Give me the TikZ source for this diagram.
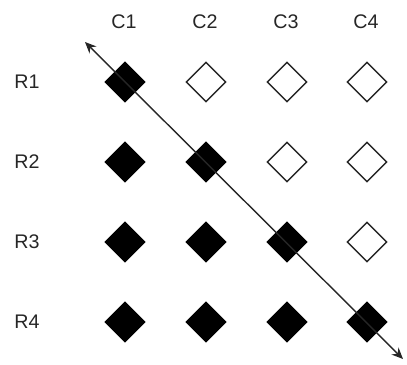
\documentclass[tikz,border=0pt]{standalone}
\usepackage{fontspec}
\setmainfont{Liberation Sans}
\usepackage{tikz}
\usetikzlibrary{arrows.meta,positioning,shapes.geometric}
\usepackage{xcolor}

\begin{document}
\begin{tikzpicture}[
    x=0.025cm, y=-0.025cm,
    full/.style={diamond, draw=black, fill=black, line width=1pt, minimum width=1cm, minimum height=1cm, inner sep=0pt},
    hollow/.style={diamond, draw=black!85, fill=white, line width=1pt, minimum width=1cm, minimum height=1cm, inner sep=0pt},
    arrow/.style={<->, >={Stealth[length=8pt, width=7pt]}, color=black!85, line width=1pt},
    head/.style={font=\fontsize{14}{16}\selectfont, text=black!85},
]
\useasboundingbox (0,0) rectangle (407,364);
\node[head] (C1) at (124, 22) {C1};
\node[head] (C2) at (205, 22) {C2};
\node[head] (C3) at (286, 22) {C3};
\node[head] (C4) at (366, 22) {C4};
\node[head] (R1) at (27, 82) {R1};
\node[head] (R2) at (27, 162) {R2};
\node[head] (R3) at (27, 242) {R3};
\node[head] (R4) at (27, 322) {R4};
\node[full] (D11) at (125, 82) {};
\node[hollow] (D12) at (206, 82) {};
\node[hollow] (D13) at (287, 82) {};
\node[hollow] (D14) at (367, 82) {};
\node[full] (D21) at (125, 162) {};
\node[full] (D22) at (206, 162) {};
\node[hollow] (D23) at (287, 162) {};
\node[hollow] (D24) at (367, 162) {};
\node[full] (D31) at (125, 242) {};
\node[full] (D32) at (206, 242) {};
\node[full] (D33) at (287, 242) {};
\node[hollow] (D34) at (367, 242) {};
\node[full] (D41) at (125, 322) {};
\node[full] (D42) at (206, 322) {};
\node[full] (D43) at (287, 322) {};
\node[full] (D44) at (367, 322) {};
\coordinate (top) at (85, 42);
\coordinate (bottom) at (403, 359);
\draw[arrow] (top) -- (bottom);
\end{tikzpicture}
\end{document}
